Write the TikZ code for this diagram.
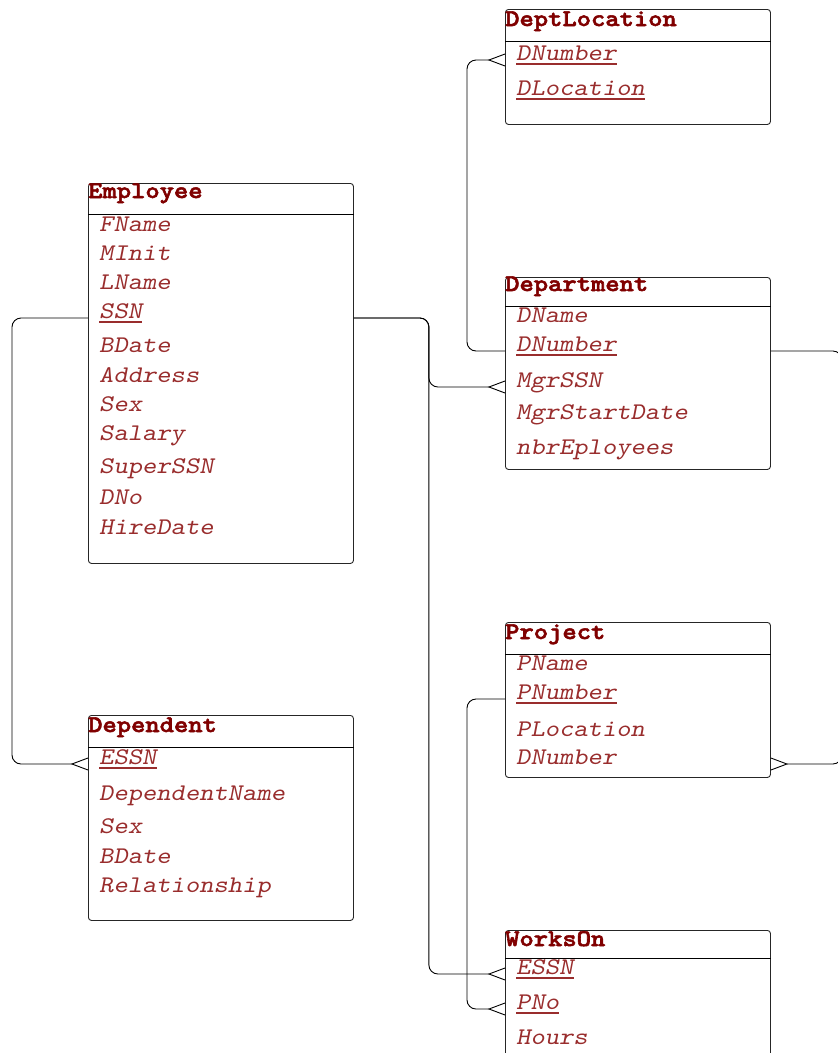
\documentclass[tikz,border=0pt]{standalone}
\usepackage{fontspec}
\usepackage{graphicx}
\usetikzlibrary{calc}
\newfontfamily\erTitleFont{lmmonolt10-bold.otf}[FakeBold=2.2]
\definecolor{titlered}{RGB}{128,0,0}
\definecolor{attrred}{RGB}{153,45,45}
\newcommand\wtxt[1]{\scalebox{1.14}[1]{#1}}
\begin{document}
\begin{tikzpicture}[x=1pt,y=-1pt,
  entity/.style={draw=black!85, line width=0.9pt, rounded corners=3pt, anchor=north west, minimum width=265pt, inner sep=0pt},
  sepline/.style={draw=black, line width=0.9pt},
  etitle/.style={anchor=base west, inner sep=0pt, font=\erTitleFont\fontsize{23.9}{24}\selectfont, text=titlered},
  attr/.style={anchor=base west, inner sep=0pt, font=\ttfamily\slshape\fontsize{23.9}{24}\selectfont, text=attrred},
  uline/.style={draw=attrred, line width=1.1pt},
  conn/.style={draw=black, line width=0.9pt, rounded corners=9pt},
  crow/.style={draw=black, line width=0.9pt}
]
\useasboundingbox (0,0) rectangle (838,1053);

% ---------- Employee ----------
\node[entity, minimum height=380pt] (emp) at (88,183) {};
\draw[sepline] ([yshift=-31pt]emp.north west) -- ([yshift=-31pt]emp.north east);
\node[etitle] (empT) at (88,198) {\wtxt{Employee}};
\node[attr] (eFName) at (99,231) {\wtxt{FName}};
\node[attr] (eMInit) at (99,260) {\wtxt{MInit}};
\node[attr] (eLName) at (99,289) {\wtxt{LName}};
\node[attr] (eSSN) at (99,318) {\wtxt{SSN}};
\node[attr] (eBDate) at (99,352) {\wtxt{BDate}};
\node[attr] (eAddress) at (99,382) {\wtxt{Address}};
\node[attr] (eSex) at (99,411) {\wtxt{Sex}};
\node[attr] (eSalary) at (99,440) {\wtxt{Salary}};
\node[attr] (eSuper) at (99,473) {\wtxt{SuperSSN}};
\node[attr] (eDNo) at (99,504) {\wtxt{DNo}};
\node[attr] (eHire) at (99,534) {\wtxt{HireDate}};

% ---------- DeptLocation ----------
\node[entity, minimum height=115pt] (dl) at (505,9) {};
\draw[sepline] ([yshift=-32pt]dl.north west) -- ([yshift=-32pt]dl.north east);
\node[etitle] (dlT) at (505,26) {\wtxt{DeptLocation}};
\node[attr] (dlDNumber) at (516,60) {\wtxt{DNumber}};
\node[attr] (dlDLoc) at (516,95) {\wtxt{DLocation}};

% ---------- Department ----------
\node[entity, minimum height=192pt] (dept) at (505,277) {};
\draw[sepline] ([yshift=-29pt]dept.north west) -- ([yshift=-29pt]dept.north east);
\node[etitle] (deptT) at (505,291) {\wtxt{Department}};
\node[attr] (dDName) at (516,322) {\wtxt{DName}};
\node[attr] (dDNumber) at (516,351) {\wtxt{DNumber}};
\node[attr] (dMgrSSN) at (516,387) {\wtxt{MgrSSN}};
\node[attr] (dMgrStart) at (516,419) {\wtxt{MgrStartDate}};
\node[attr] (dNbr) at (516,454) {\wtxt{nbrEployees}};

% ---------- Dependent ----------
\node[entity, minimum height=205pt] (dep) at (88,715) {};
\draw[sepline] ([yshift=-32pt]dep.north west) -- ([yshift=-32pt]dep.north east);
\node[etitle] (depT) at (88,732) {\wtxt{Dependent}};
\node[attr] (depESSN) at (99,764) {\wtxt{ESSN}};
\node[attr] (depName) at (99,800) {\wtxt{DependentName}};
\node[attr] (depSex) at (99,833) {\wtxt{Sex}};
\node[attr] (depBDate) at (99,863) {\wtxt{BDate}};
\node[attr] (depRel) at (99,892) {\wtxt{Relationship}};

% ---------- Project ----------
\node[entity, minimum height=155pt] (proj) at (505,622) {};
\draw[sepline] ([yshift=-32pt]proj.north west) -- ([yshift=-32pt]proj.north east);
\node[etitle] (projT) at (505,639) {\wtxt{Project}};
\node[attr] (pPName) at (516,670) {\wtxt{PName}};
\node[attr] (pPNumber) at (516,699) {\wtxt{PNumber}};
\node[attr] (pPLoc) at (516,736) {\wtxt{PLocation}};
\node[attr] (pDNumber) at (516,764) {\wtxt{DNumber}};

% ---------- WorksOn ----------
\node[entity, minimum height=150pt] (wo) at (505,930) {};
\draw[sepline] ([yshift=-28pt]wo.north west) -- ([yshift=-28pt]wo.north east);
\node[etitle] (woT) at (505,946) {\wtxt{WorksOn}};
\node[attr] (wESSN) at (516,974) {\wtxt{ESSN}};
\node[attr] (wPNo) at (516,1009) {\wtxt{PNo}};
\node[attr] (wHours) at (516,1044) {\wtxt{Hours}};

% ---------- underlines of keys ----------
\foreach \n in {eSSN,dlDNumber,dlDLoc,dDNumber,depESSN,pPNumber,wESSN,wPNo}
  \draw[uline] ([yshift=-4pt]\n.base west) -- ([yshift=-4pt]\n.base east);

% ---------- connector end points ----------
\coordinate (empL) at (emp.west |- eSSN.base);
\coordinate (empR) at (emp.east |- eSSN.base);
\coordinate (depIn) at (dep.west |- depESSN.base);
\coordinate (mgrIn) at (dept.west |- dMgrSSN.base);
\coordinate (woEIn) at (wo.west |- wESSN.base);
\coordinate (deptL) at (dept.west |- dDNumber.base);
\coordinate (deptR) at (dept.east |- dDNumber.base);
\coordinate (dlIn) at (dl.west |- dlDNumber.base);
\coordinate (projIn) at (proj.east |- pDNumber.base);
\coordinate (projL) at (proj.west |- pPNumber.base);
\coordinate (woPIn) at (wo.west |- wPNo.base);

% ---------- connectors ----------
\draw[conn] (empL) -- ++(-76,0) |- ($(depIn)+(-16,0)$);
\draw[conn] (empR) -- ++(75,0) |- ($(mgrIn)+(-16,0)$);
\draw[conn] (empR) -- ++(75,0) |- ($(woEIn)+(-16,0)$);
\draw[conn] (deptL) -- ++(-38,0) |- ($(dlIn)+(-16,0)$);
\draw[conn] (deptR) -- ++(71,0) |- ($(projIn)+(16,0)$);
\draw[conn] (projL) -- ++(-38,0) |- ($(woPIn)+(-16,0)$);

% ---------- crow's feet ----------
\foreach \p in {depIn,mgrIn,woEIn,dlIn,woPIn}
  \draw[crow] ($(\p)+(0,-6)$) -- ($(\p)+(-16,0)$) -- ($(\p)+(0,6)$);
\draw[crow] ($(projIn)+(0,-6)$) -- ($(projIn)+(16,0)$) -- ($(projIn)+(0,6)$);
\end{tikzpicture}
\end{document}
